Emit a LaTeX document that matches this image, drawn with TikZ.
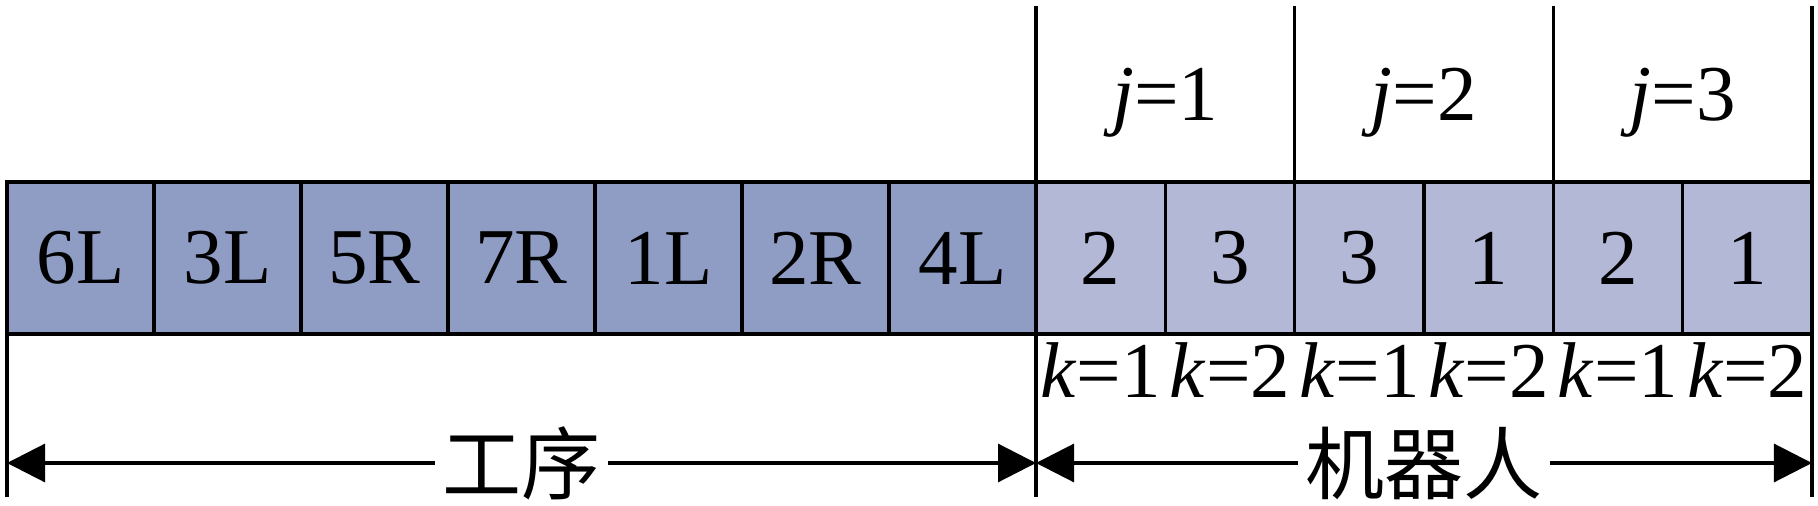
\documentclass[tikz,border=0pt]{standalone}
\usepackage{fontspec}
\setmainfont{Liberation Serif}
\newfontfamily\cjk{Noto Sans CJK SC}
\usepackage{tikz}
\usetikzlibrary{positioning,arrows.meta}
\definecolor{opfill}{HTML}{8F9CC4}
\definecolor{robfill}{HTML}{B3B8D6}
\begin{document}
\begin{tikzpicture}[
   font=\fontsize{22.5}{26}\selectfont,
   op/.style={draw,line width=1pt,fill=opfill,minimum width=1.47cm,minimum height=1.52cm,inner sep=0pt,outer sep=0pt},
   rob/.style={op,fill=robfill,minimum width=1.2933cm},
   lab/.style={inner sep=0pt,anchor=base},
   frame/.style={line width=1.3pt},
   sep/.style={line width=1pt},
   to/.style={{Triangle[length=0.38cm,width=0.38cm]}-{Triangle[length=0.38cm,width=0.38cm]},line width=0.9pt},
   spanlab/.style={fill=white,inner sep=2pt}]
\useasboundingbox (0,0) rectangle (18.18,5.05);
\coordinate (top) at (0,4.99);
\coordinate (bot) at (0,0.08);
\node[op] (o1) at (0.805,2.47) {6L};
\node[op,right=0pt of o1] (o2) {3L};
\node[op,right=0pt of o2] (o3) {5R};
\node[op,right=0pt of o3] (o4) {7R};
\node[op,right=0pt of o4] (o5) {1L};
\node[op,right=0pt of o5] (o6) {2R};
\node[op,right=0pt of o6] (o7) {4L};
\node[rob,right=0pt of o7] (r1) {2};
\node[rob,right=0pt of r1] (r2) {3};
\node[rob,right=0pt of r2] (r3) {3};
\node[rob,right=0pt of r3] (r4) {1};
\node[rob,right=0pt of r4] (r5) {2};
\node[rob,right=0pt of r5] (r6) {1};
% frame of the row
\draw[frame] (o1.north west) -- (r6.north east);
\draw[frame] (o1.south west) -- (r6.south east);
\draw[frame] (o1.north west) -- (o1.west |- bot);
\draw[sep] (o7.east |- top) -- (o7.east |- bot);
\draw[sep] (r2.east |- top) -- (r2.north east);
\draw[sep] (r4.east |- top) -- (r4.north east);
\draw[sep] (r6.east |- top) -- (r6.east |- bot);
% robot index j
\node[lab] (j1) at (r1.east |- 0,3.84) {\textit{j}=1};
\node[lab] (j2) at (r3.east |- 0,3.84) {\textit{j}=2};
\node[lab] (j3) at (r5.east |- 0,3.84) {\textit{j}=3};
% position index k
\node[lab] (k1) at (r1.center |- 0,1.07) {\textit{k}=1};
\node[lab] (k2) at (r2.center |- 0,1.07) {\textit{k}=2};
\node[lab] (k3) at (r3.center |- 0,1.07) {\textit{k}=1};
\node[lab] (k4) at (r4.center |- 0,1.07) {\textit{k}=2};
\node[lab] (k5) at (r5.center |- 0,1.07) {\textit{k}=1};
\node[lab] (k6) at (r6.center |- 0,1.07) {\textit{k}=2};
% extent arrows
\coordinate (al) at (o1.west |- 0,0.42);
\coordinate (am) at (o7.east |- 0,0.42);
\coordinate (ar) at (r6.east |- 0,0.42);
\draw[to] (al) -- node[spanlab] {\cjk 工序} (am);
\draw[to] (am) -- node[spanlab] {\cjk 机器人} (ar);
\end{tikzpicture}
\end{document}
